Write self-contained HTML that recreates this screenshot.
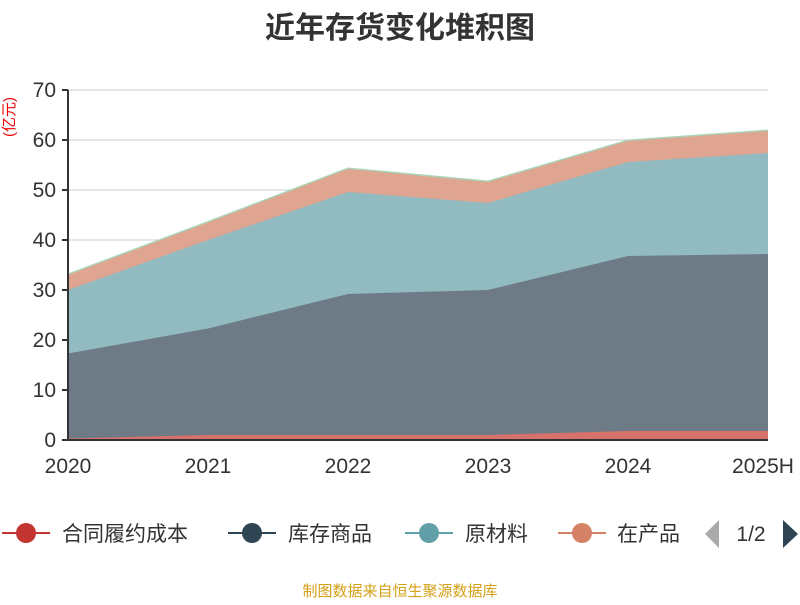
<!DOCTYPE html>
<html><head><meta charset="utf-8"><style>
body{margin:0;background:#fff;}
svg text{font-family:"Liberation Sans","Noto Sans CJK SC",sans-serif;}
</style></head><body>
<svg id="c" width="800" height="600" xmlns="http://www.w3.org/2000/svg">
<text x="400" y="38" text-anchor="middle" font-size="30" font-weight="bold" fill="#333">近年存货变化堆积图</text>
<text transform="translate(14,117) rotate(-90)" text-anchor="middle" font-size="15" fill="#e00">(亿元)</text>
<g id="grid"></g><g id="areas"></g><g id="axes"></g>
<g id="legend"></g>
<text x="400" y="596" text-anchor="middle" font-size="15" fill="#d4a017">制图数据来自恒生聚源数据库</text>
</svg>
<script>
const categories=["2020","2021","2022","2023","2024","2025H"];
const yTicks=[0,10,20,30,40,50,60,70];
const seriesNames=["合同履约成本","库存商品","原材料","在产品","其他"];
const s1=[0.3,1,1,1,1.8,1.8];
const s2=[17,21.3,28.2,29,35,35.4];
const s3=[12.7,17.7,20.4,17.4,18.8,20.2];
const s4=[3,3.5,4.6,4.2,4.2,4.4];
const s5=[0.2,0.2,0.2,0.2,0.2,0.2];
const series=[s1,s2,s3,s4,s5];
const fills=["#d6716b","#6e7b87","#91bbc1","#e0a590","#a8d4b8"];
const lines=["#c23531","#2f4554","#61a0a8","#d48265","#91c7ae"];
const NS="http://www.w3.org/2000/svg";
const X0=68,X1=768,Y0=440,Y1=90;
const xs=i=>X0+i*(X1-X0)/(categories.length-1);
const ys=v=>Y0-(v/70)*(Y0-Y1);
function mk(tag,attrs,parent,txt){const e=document.createElementNS(NS,tag);for(const k in attrs)e.setAttribute(k,attrs[k]);if(txt!==undefined)e.textContent=txt;document.getElementById(parent).appendChild(e);return e;}
yTicks.forEach(t=>{
 const l=mk("line",{x1:X0,x2:X1,y1:ys(t),y2:ys(t),stroke:"#ccc","stroke-width":1},"grid");
 
 
 const tk=mk("line",{x1:X0-6,x2:X0,y1:ys(t),y2:ys(t),stroke:"#333","stroke-width":2},"axes");
 
 
 const tx=mk("text",{x:X0-12,y:ys(t)+7,"text-anchor":"end","font-size":21,fill:"#333"},"axes",t);
 
 
});
let base=categories.map(()=>0);
series.forEach((s,k)=>{
 const top=base.map((b,i)=>b+s[i]);
 let d="M"+top.map((v,i)=>xs(i)+","+ys(v)).join(" L");
 for(let i=categories.length-1;i>=0;i--)d+=" L"+xs(i)+","+ys(base[i]);
 d+=" Z";
 const p=mk("path",{d:d,fill:fills[k],"fill-opacity":k==4?0.9:1,stroke:"none"},"areas");
 
 
 const ln=mk("polyline",{points:top.map((v,i)=>xs(i)+","+ys(v)).join(" "),fill:"none",stroke:fills[k],"stroke-width":1},"areas");
 
 
 base=top;
});
const ax=mk("line",{x1:X0,x2:X0,y1:Y1,y2:Y0,stroke:"#333","stroke-width":2},"axes");


const bx=mk("line",{x1:X0,x2:X1,y1:Y0,y2:Y0,stroke:"#333","stroke-width":2},"axes");


categories.forEach((c,i)=>{
 const anchor=i==categories.length-1?"middle":"middle";
 const t=mk("text",{x:Math.min(xs(i),i==categories.length-1?763:9999),y:473,"text-anchor":anchor,"font-size":21,fill:"#333"},"axes",c);
 
 
});
const lg=[[2,62],[228,288],[405,465],[558,617]];
lg.forEach((p,k)=>{
 const g=mk("g",{},"legend");
 
 
 g.innerHTML='<line x1="'+p[0]+'" x2="'+(p[0]+48)+'" y1="533" y2="533" stroke="'+lines[k]+'" stroke-width="2"/><circle cx="'+(p[0]+24)+'" cy="533" r="10" fill="'+lines[k]+'"/>';
 const t=document.createElementNS(NS,"text");
 t.setAttribute("x",p[1]);t.setAttribute("y",541);t.setAttribute("font-size",21);t.setAttribute("fill","#333");
 t.textContent=seriesNames[k];
 if(k==3){t.setAttribute("textLength","0");t.removeAttribute("textLength");}
 g.appendChild(t);
});
// clip last legend
const cp=mk("rect",{x:684,y:515,width:20,height:40,fill:"#fff"},"legend");


const la=mk("path",{d:"M705,534 L719,520 L719,548 Z",fill:"#aaa"},"legend");


const pt=mk("text",{x:751,y:541,"text-anchor":"middle","font-size":21,fill:"#333"},"legend","1/2");


const ra=mk("path",{d:"M783,520 L798,534 L783,548 Z",fill:"#2f4554"},"legend");


</script>
</body></html>
